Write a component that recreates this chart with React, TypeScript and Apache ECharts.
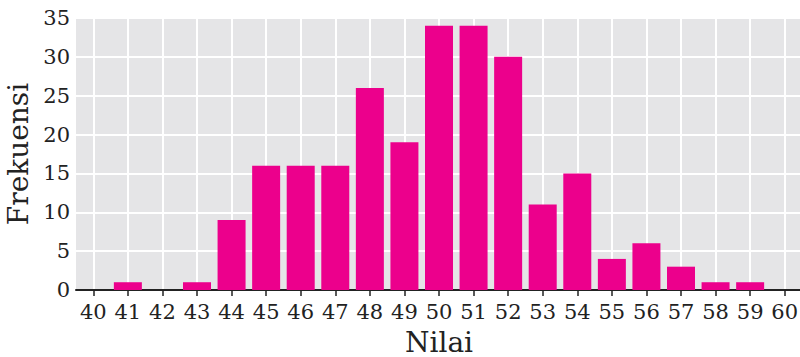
import React, { useEffect, useRef } from "react";
import * as echarts from "echarts";

const categories = ["40","41","42","43","44","45","46","47","48","49","50","51","52","53","54","55","56","57","58","59","60"];
const frequencies = [null, 1, 0, 1, 9, 16, 16, 16, 26, 19, 34, 34, 30, 11, 15, 4, 6, 3, 1, 1, null];
const yTicks = { min: 0, max: 35, interval: 5 };

const FONT = "DejaVu Serif";

export default function App() {
  const ref = useRef<HTMLDivElement>(null);
  useEffect(() => {
    document.body.style.margin = "0";
    const chart = echarts.init(ref.current!, null, { renderer: "svg" });
    chart.setOption({
      animation: false,
      grid: {
        left: 76,
        top: 18,
        right: -2,
        bottom: 67,
        show: true,
        backgroundColor: "#e5e5e7",
        borderWidth: 0,
        containLabel: false,
        outerBoundsMode: "none",
      },
      xAxis: {
        type: "category",
        data: categories,
        boundaryGap: true,
        name: "Nilai",
        nameLocation: "middle",
        nameGap: 38,
        nameTextStyle: { fontFamily: FONT, fontSize: 28, color: "#222" },
        axisLine: { show: true, lineStyle: { color: "#222", width: 2 } },
        axisTick: { show: true, alignWithLabel: true, length: 6, lineStyle: { color: "#222", width: 1.5 } },
        axisLabel: { fontFamily: FONT, fontSize: 21, color: "#222", margin: 11, interval: 0 },
        splitLine: { show: true, alignWithLabel: true, interval: 0, lineStyle: { color: "#ffffff", width: 2 } },
      },
      yAxis: {
        type: "value",
        min: yTicks.min,
        max: yTicks.max,
        interval: yTicks.interval,
        name: "Frekuensi",
        nameLocation: "middle",
        nameGap: 36,
        nameTextStyle: { fontFamily: FONT, fontSize: 28, color: "#222" },
        axisLine: { show: false },
        axisTick: { show: false },
        axisLabel: { fontFamily: FONT, fontSize: 21, color: "#222", margin: 6 },
        splitLine: { show: true, lineStyle: { color: "#ffffff", width: 2 } },
      },
      series: [
        {
          type: "bar",
          data: frequencies,
          barWidth: 28,
          itemStyle: { color: "#ec008c" },
        },
      ],
    });
    return () => chart.dispose();
  }, []);
  return <div ref={ref} style={{ width: 800, height: 357 }} />;
}
